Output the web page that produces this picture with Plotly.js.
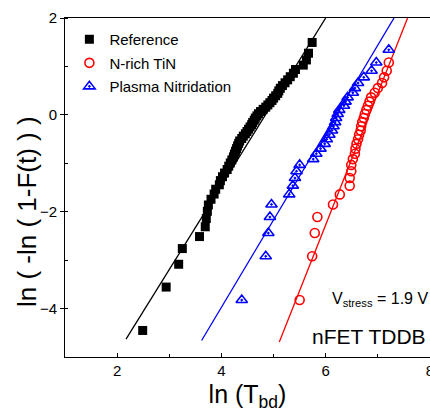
<!DOCTYPE html>
<html>
<head>
<meta charset="utf-8">
<script src="https://cdn.plot.ly/plotly-3.0.1.min.js"></script>
<style>html,body{margin:0;padding:0;background:#fff;}#chart{width:430px;height:417px;}</style>
</head>
<body>
<div id="chart"></div>
<script>
// Reference (black squares): ln(Tbd) and Weibull ln(-ln(1-F))
var refX = [2.49,2.94,3.18,3.25,3.58,3.69,3.71,3.73,3.75,3.80,3.86,3.89,3.96,3.98,4.02,4.06,4.11,4.14,4.17,4.20,
            4.23,4.25,4.27,4.29,4.31,4.33,4.35,4.39,4.42,4.46,4.49,4.52,4.55,4.58,4.60,4.63,4.65,4.68,4.71,4.75,
            4.80,4.85,4.89,4.93,4.97,5.00,5.04,5.08,5.10,5.13,5.17,5.22,5.27,5.32,5.38,5.42,5.57,5.63,5.67,5.74];
var refY = [-4.452,-3.556,-3.085,-2.761,-2.513,-2.311,-2.141,-1.992,-1.861,-1.743,-1.635,-1.536,-1.444,-1.358,-1.277,-1.201,-1.128,-1.059,-0.993,-0.930,
            -0.868,-0.809,-0.752,-0.697,-0.643,-0.590,-0.539,-0.488,-0.439,-0.391,-0.343,-0.296,-0.249,-0.203,-0.157,-0.112,-0.067,-0.022,0.023,0.068,
            0.114,0.159,0.205,0.251,0.298,0.346,0.394,0.444,0.495,0.549,0.604,0.662,0.723,0.788,0.859,0.937,1.027,1.134,1.273,1.495];

// N-rich TiN (red circles)
var tinX = [5.50,5.74,5.79,5.84,6.14,6.27,6.46,6.46,6.49,6.49,6.52,6.56,6.57,6.59,6.62,6.64,6.67,6.68,6.70,6.73,
            6.75,6.78,6.81,6.84,6.87,6.94,7.00,7.08,7.12,7.17,7.21];
var tinY = [-3.824,-2.920,-2.440,-2.110,-1.850,-1.642,-1.462,-1.305,-1.163,-1.033,-0.914,-0.803,-0.698,-0.599,-0.503,-0.411,-0.322,-0.235,-0.150,-0.066,
            0.019,0.103,0.187,0.274,0.362,0.455,0.552,0.658,0.775,0.910,1.081];

// Plasma Nitridation (blue triangles)
var pnX = [4.39,4.85,4.90,4.93,4.96,5.30,5.37,5.41,5.44,5.50,5.76,5.82,5.90,5.98,6.02,6.07,6.12,6.15,6.18,6.20,
           6.23,6.26,6.35,6.38,6.42,6.52,6.56,6.62,6.73,6.88,6.97,7.21];
var pnY = [-3.824,-2.920,-2.440,-2.110,-1.850,-1.642,-1.462,-1.305,-1.163,-1.033,-0.914,-0.803,-0.698,-0.599,-0.503,-0.411,-0.322,-0.235,-0.150,-0.066,
           0.019,0.103,0.187,0.274,0.362,0.455,0.552,0.658,0.775,0.910,1.081,1.344];

// Weibull fit lines (end points)
var refFitX = [2.17, 6.00];  var refFitY = [-4.63, 2.00];
var pnFitX  = [3.62, 7.31];  var pnFitY  = [-4.66, 2.00];
var tinFitX = [5.11, 7.57];  var tinFitY = [-4.69, 2.00];

var seriesNames = ["Reference", "N-rich TiN", "Plasma Nitridation"];

var traces = [
  {x: refFitX, y: refFitY, mode: "lines", line: {color: "black", width: 1.3}, showlegend: false, hoverinfo: "skip"},
  {x: tinFitX, y: tinFitY, mode: "lines", line: {color: "red", width: 1.3}, showlegend: false, hoverinfo: "skip"},
  {x: pnFitX, y: pnFitY, mode: "lines", line: {color: "blue", width: 1.3}, showlegend: false, hoverinfo: "skip"},
  {x: refX, y: refY, mode: "markers", name: seriesNames[0], legendgroup: "a",
   marker: {symbol: "square", size: 9, color: "black"}},
  {x: tinX, y: tinY, mode: "markers", name: seriesNames[1], legendgroup: "b",
   marker: {symbol: "circle-open", size: 9, color: "red", line: {width: 1.6, color: "red"}}},
  {x: pnX, y: pnY, mode: "markers", name: seriesNames[2], legendgroup: "c",
   marker: {symbol: "triangle-up-open-dot", size: 10, color: "blue", line: {width: 1.6, color: "blue"}}}
];

var layout = {
  width: 430, height: 417,
  margin: {l: 65, r: 0, t: 18, b: 60},
  paper_bgcolor: "white", plot_bgcolor: "white",
  font: {family: "Liberation Sans, Arial, sans-serif", color: "black"},
  showlegend: true,
  legend: {x: 0.012, y: 0.985, xanchor: "left", yanchor: "top", bgcolor: "rgba(0,0,0,0)",
           font: {size: 15, family: "Liberation Sans, Arial, sans-serif"}, traceorder: "grouped", tracegroupgap: 1},
  xaxis: {range: [1, 8], dtick: 2, tick0: 0, showgrid: false, zeroline: false,
          showline: true, mirror: true, linecolor: "black", linewidth: 1,
          ticks: "inside", ticklen: 4, tickcolor: "black", ticklabeloverflow: "allow",
          minor: {dtick: 1, tick0: 1, ticks: "inside", ticklen: 3, tickcolor: "black"},
          tickfont: {size: 15},
          title: {text: "ln (T<sub>bd</sub>)", font: {size: 25}, standoff: 7}},
  yaxis: {range: [-5, 2], dtick: 2, tick0: 0, showgrid: false, zeroline: false,
          showline: true, mirror: true, linecolor: "black", linewidth: 1,
          ticks: "outside", ticklen: 4, tickcolor: "black",
          minor: {dtick: 1, tick0: 1, ticks: "inside", ticklen: 3, tickcolor: "black"},
          tickfont: {size: 15}, title: {text: ""}},
  annotations: [
    {text: "ln ( -ln ( 1-F(t) ) )", xref: "paper", yref: "paper", x: -0.058, y: 0.43,
     xanchor: "right", yanchor: "middle", textangle: -90, showarrow: false, font: {size: 26}},
    {text: "V<sub>stress</sub> = 1.9 V", xref: "paper", yref: "paper", x: 1.0, y: 0.17,
     xanchor: "right", yanchor: "middle", showarrow: false, font: {size: 16}},
    {text: "nFET TDDB", xref: "paper", yref: "paper", x: 0.995, y: 0.06,
     xanchor: "right", yanchor: "middle", showarrow: false, font: {size: 21}}
  ]
};

Plotly.newPlot("chart", traces, layout, {displayModeBar: false, staticPlot: true});
</script>
</body>
</html>
